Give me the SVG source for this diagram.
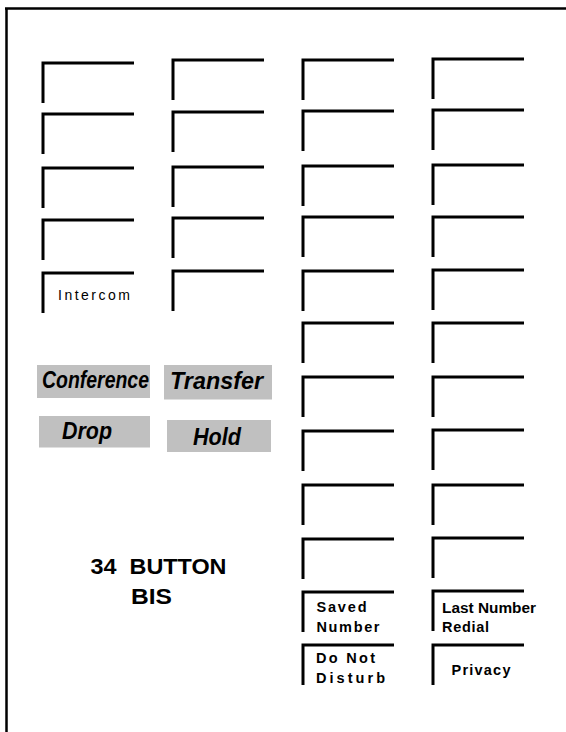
<svg xmlns="http://www.w3.org/2000/svg" width="566" height="732" viewBox="0 0 566 732">
<style>
.btn{fill:none;stroke:#000;stroke-width:3;stroke-linecap:butt;stroke-linejoin:miter}
.frame{fill:none;stroke:#000;stroke-width:2.5}
.lbl{font-family:"Liberation Sans",Arial,sans-serif;font-size:14px;fill:#000}
.lblb{font-family:"Liberation Sans",Arial,sans-serif;font-size:14.5px;font-weight:bold;fill:#000}
.key{fill:#c0c0c0}
.keyt{font-family:"Liberation Sans",Arial,sans-serif;font-size:24px;font-weight:bold;font-style:italic;fill:#000}
.title{font-family:"Liberation Sans",Arial,sans-serif;font-size:22.5px;font-weight:bold;fill:#000}
</style>
<defs>
<path id="b" class="btn" d="M0,40 V0 H91"/>
</defs>
<g id="frame">
<path class="frame" d="M5,8.5 H566 M6.5,7.5 V732"/>
</g>
<g id="col1">
<use href="#b" x="43" y="63"/>
<use href="#b" x="43" y="114"/>
<use href="#b" x="43" y="168"/>
<use href="#b" x="43" y="220"/>
<g id="intercom"><use href="#b" x="43" y="273"/><text class="lbl" x="58" y="300" textLength="72" lengthAdjust="spacing">Intercom</text></g>
</g>
<g id="col2">
<use href="#b" x="173" y="60"/>
<use href="#b" x="173" y="112"/>
<use href="#b" x="173" y="167"/>
<use href="#b" x="173" y="218"/>
<use href="#b" x="173" y="271"/>
</g>
<g id="col3">
<use href="#b" x="303" y="60"/>
<use href="#b" x="303" y="111"/>
<use href="#b" x="303" y="166"/>
<use href="#b" x="303" y="217"/>
<use href="#b" x="303" y="271"/>
<use href="#b" x="303" y="323"/>
<use href="#b" x="303" y="377"/>
<use href="#b" x="303" y="431"/>
<use href="#b" x="303" y="485"/>
<use href="#b" x="303" y="539"/>
<g id="saved"><use href="#b" x="303" y="592"/><text class="lblb" x="316.5" y="611.5" textLength="50" lengthAdjust="spacing">Saved</text><text class="lblb" x="316.5" y="631.5" textLength="63" lengthAdjust="spacing">Number</text></g>
<g id="dnd"><use href="#b" x="303" y="645"/><text class="lblb" x="316" y="663" textLength="59" lengthAdjust="spacing">Do Not</text><text class="lblb" x="316" y="683" textLength="69" lengthAdjust="spacing">Disturb</text></g>
</g>
<g id="col4">
<use href="#b" x="433" y="59"/>
<use href="#b" x="433" y="110"/>
<use href="#b" x="433" y="165"/>
<use href="#b" x="433" y="217"/>
<use href="#b" x="433" y="270"/>
<use href="#b" x="433" y="323"/>
<use href="#b" x="433" y="377"/>
<use href="#b" x="433" y="430"/>
<use href="#b" x="433" y="485"/>
<use href="#b" x="433" y="538"/>
<g id="lnr"><use href="#b" x="433" y="591"/><text class="lblb" x="442" y="613" textLength="94" lengthAdjust="spacingAndGlyphs">Last Number</text><text class="lblb" x="442" y="631.5" textLength="47" lengthAdjust="spacing">Redial</text></g>
<g id="privacy"><use href="#b" x="433" y="645"/><text class="lblb" x="451.5" y="675" textLength="59" lengthAdjust="spacing">Privacy</text></g>
</g>
<g id="conference"><rect class="key" x="37" y="365" width="113" height="33"/><text class="keyt" x="42" y="388" textLength="107" lengthAdjust="spacingAndGlyphs">Conference</text></g>
<g id="transfer"><rect class="key" x="164" y="365" width="108" height="34.5"/><text class="keyt" x="170" y="388.5" textLength="93" lengthAdjust="spacingAndGlyphs">Transfer</text></g>
<g id="drop"><rect class="key" x="39" y="416" width="111" height="31.5"/><text class="keyt" x="62" y="438.5" textLength="50" lengthAdjust="spacingAndGlyphs">Drop</text></g>
<g id="hold"><rect class="key" x="167" y="420" width="104" height="32"/><text class="keyt" x="193" y="444.5" textLength="48" lengthAdjust="spacingAndGlyphs">Hold</text></g>
<g id="title">
<text class="title" x="90.5" y="573.5" textLength="136" lengthAdjust="spacingAndGlyphs" xml:space="preserve">34  BUTTON</text>
<text class="title" x="131" y="604" textLength="41" lengthAdjust="spacingAndGlyphs">BIS</text>
</g>
</svg>
